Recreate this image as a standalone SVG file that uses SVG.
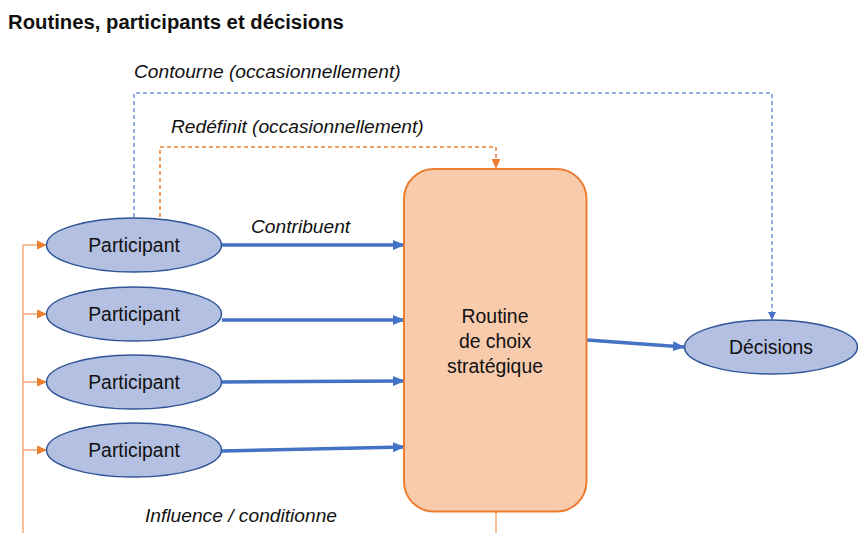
<svg xmlns="http://www.w3.org/2000/svg" width="858" height="533" viewBox="0 0 858 533">
<style>
text{font-family:"Liberation Sans",Arial,sans-serif;fill:#111}
.t{font-size:20.3px;font-weight:bold}
.lbl{font-size:19.2px;font-style:italic}
.nt{font-size:19.4px;text-anchor:middle}
.ell{fill:#B4C0E2;stroke:#2F5597;stroke-width:1.5}
.box{fill:#F8CBAD;stroke:#ED7D31;stroke-width:2}
.blue{stroke:#4472C4;stroke-width:3.5;fill:none}
.bdash{stroke:#6F93D6;stroke-width:1.5;stroke-dasharray:4 3;fill:none}
.odash{stroke:#ED7D31;stroke-width:1.5;stroke-dasharray:4 3;fill:none}
.orange{stroke:#F4A874;stroke-width:1.5;fill:none}
</style>
<defs>
<marker id="ab" markerWidth="8" markerHeight="8" refX="7" refY="4" orient="auto" markerUnits="userSpaceOnUse" viewBox="0 0 8 8"><path d="M0,0 L8,4 L0,8 z" fill="#4472C4"/></marker>
<marker id="abl" markerWidth="12" markerHeight="12" refX="11" refY="6" orient="auto" markerUnits="userSpaceOnUse" viewBox="0 0 12 12"><path d="M0,1 L12,6 L0,11 z" fill="#4472C4"/></marker>
<marker id="ao" markerWidth="10" markerHeight="10" refX="9" refY="5" orient="auto" markerUnits="userSpaceOnUse" viewBox="0 0 10 10"><path d="M0,0.5 L10,5 L0,9.5 z" fill="#ED7D31"/></marker>
</defs>
<rect width="858" height="533" fill="#fff"/>
<text class="t" x="8" y="29">Routines, participants et décisions</text>
<g id="connectors">
<path class="bdash" d="M134,217 V93 H772 V319" marker-end="url(#ab)"/>
<path class="odash" d="M160,217 V147 H496 V168" marker-end="url(#ao)"/>
<path class="orange" d="M23,533 V245"/>
<path class="orange" d="M23,245 H46" marker-end="url(#ao)"/>
<path class="orange" d="M23,314 H46" marker-end="url(#ao)"/>
<path class="orange" d="M23,382 H46" marker-end="url(#ao)"/>
<path class="orange" d="M23,450 H46" marker-end="url(#ao)"/>
<path class="orange" d="M496,512 V533"/>
<path class="blue" d="M222,245 L404,245" marker-end="url(#abl)"/>
<path class="blue" d="M222,320 L404,320" marker-end="url(#abl)"/>
<path class="blue" d="M222,382 L404,381" marker-end="url(#abl)"/>
<path class="blue" d="M222,451 L404,447" marker-end="url(#abl)"/>
<path class="blue" d="M587,340 L684,347" marker-end="url(#abl)"/>
</g>
<text class="lbl" x="134" y="78">Contourne (occasionnellement)</text>
<text class="lbl" x="171" y="133">Redéfinit (occasionnellement)</text>
<text class="lbl" x="251" y="233">Contribuent</text>
<text class="lbl" x="145" y="522">Influence / conditionne</text>
<g id="p1"><ellipse class="ell" cx="134" cy="245" rx="87.5" ry="27"/><text class="nt" x="134" y="252">Participant</text></g>
<g id="p2"><ellipse class="ell" cx="134" cy="314" rx="87.5" ry="27"/><text class="nt" x="134" y="321">Participant</text></g>
<g id="p3"><ellipse class="ell" cx="134" cy="382" rx="87.5" ry="27"/><text class="nt" x="134" y="389">Participant</text></g>
<g id="p4"><ellipse class="ell" cx="134" cy="450" rx="87.5" ry="27"/><text class="nt" x="134" y="457">Participant</text></g>
<g id="routine"><rect class="box" x="404" y="169" width="182.5" height="342.5" rx="30" ry="30"/>
<text class="nt" x="495" y="323">Routine</text>
<text class="nt" x="495" y="348">de choix</text>
<text class="nt" x="495" y="373">stratégique</text></g>
<g id="decisions"><ellipse class="ell" cx="771" cy="347" rx="86.5" ry="27"/><text class="nt" x="771" y="354">Décisions</text></g>
</svg>
